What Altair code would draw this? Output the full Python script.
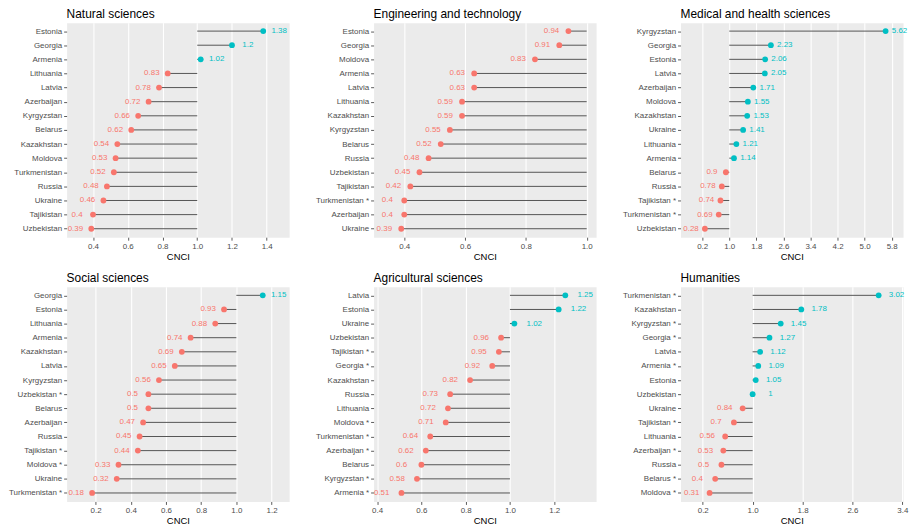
import altair as alt
import pandas as pd

TEAL = "#00BFC4"
SALMON = "#F8766D"
FONT = "Liberation Sans"

# ---- data (top to bottom order as in the figure) ----
nat_countries = ["Estonia", "Georgia", "Armenia", "Lithuania", "Latvia", "Azerbaijan", "Kyrgyzstan",
                 "Belarus", "Kazakhstan", "Moldova", "Turkmenistan", "Russia", "Ukraine", "Tajikistan", "Uzbekistan"]
nat_values = [1.38, 1.2, 1.02, 0.83, 0.78, 0.72, 0.66, 0.62, 0.54, 0.53, 0.52, 0.48, 0.46, 0.4, 0.39]

eng_countries = ["Estonia", "Georgia", "Moldova", "Armenia", "Latvia", "Lithuania", "Kazakhstan",
                 "Kyrgyzstan", "Belarus", "Russia", "Uzbekistan", "Tajikistan", "Turkmenistan *", "Azerbaijan", "Ukraine"]
eng_values = [0.94, 0.91, 0.83, 0.63, 0.63, 0.59, 0.59, 0.55, 0.52, 0.48, 0.45, 0.42, 0.4, 0.4, 0.39]

med_countries = ["Kyrgyzstan", "Georgia", "Estonia", "Latvia", "Azerbaijan", "Moldova", "Kazakhstan",
                 "Ukraine", "Lithuania", "Armenia", "Belarus", "Russia", "Tajikistan *", "Turkmenistan *", "Uzbekistan"]
med_values = [5.62, 2.23, 2.06, 2.05, 1.71, 1.55, 1.53, 1.41, 1.21, 1.14, 0.9, 0.78, 0.74, 0.69, 0.28]

soc_countries = ["Georgia", "Estonia", "Lithuania", "Armenia", "Kazakhstan", "Latvia", "Kyrgyzstan",
                 "Uzbekistan *", "Belarus", "Azerbaijan", "Russia", "Tajikistan *", "Moldova *", "Ukraine", "Turkmenistan *"]
soc_values = [1.15, 0.93, 0.88, 0.74, 0.69, 0.65, 0.56, 0.5, 0.5, 0.47, 0.45, 0.44, 0.33, 0.32, 0.18]

agr_countries = ["Latvia", "Estonia", "Ukraine", "Uzbekistan", "Tajikistan *", "Georgia *", "Kazakhstan",
                 "Russia", "Lithuania", "Moldova *", "Turkmenistan *", "Azerbaijan *", "Belarus", "Kyrgyzstan *", "Armenia *"]
agr_values = [1.25, 1.22, 1.02, 0.96, 0.95, 0.92, 0.82, 0.73, 0.72, 0.71, 0.64, 0.62, 0.6, 0.58, 0.51]

hum_countries = ["Turkmenistan *", "Kazakhstan", "Kyrgyzstan *", "Georgia *", "Latvia", "Armenia *", "Estonia",
                 "Uzbekistan", "Ukraine", "Tajikistan *", "Lithuania", "Azerbaijan *", "Russia", "Belarus *", "Moldova *"]
hum_values = [3.02, 1.78, 1.45, 1.27, 1.12, 1.09, 1.05, 1.0, 0.84, 0.7, 0.56, 0.53, 0.5, 0.4, 0.31]

W, H = 224, 216


def panel(title, countries, values, domain, ticks, dx):
    df = pd.DataFrame({"country": countries, "value": values})
    base = alt.Chart(df).transform_calculate(lbl="'' + datum.value")
    y = alt.Y("country:N", sort=countries,
              scale=alt.Scale(type="point", padding=0.6),
              axis=alt.Axis(title=None, grid=False, labelLimit=200))
    x = alt.X("value:Q",
              scale=alt.Scale(domain=domain, nice=False, zero=False),
              axis=alt.Axis(values=ticks, format=".1f", title="CNCI", grid=True,
                            labelFlush=False, labelOverlap=False))
    rule = base.mark_rule(color="#555555", strokeWidth=1).encode(x=x, x2=alt.datum(1), y=y)
    pts = base.mark_circle(size=34, opacity=1).encode(
        x=x, y=y,
        color=alt.condition(alt.datum.value >= 1, alt.value(TEAL), alt.value(SALMON)),
    )
    txt_hi = base.transform_filter(alt.datum.value >= 1).mark_text(
        align="center", baseline="middle", dx=dx, fontSize=8, color=TEAL, font=FONT
    ).encode(x=x, y=y, text="lbl:N")
    txt_lo = base.transform_filter(alt.datum.value < 1).mark_text(
        align="center", baseline="middle", dx=-dx, fontSize=8, color=SALMON, font=FONT
    ).encode(x=x, y=y, text="lbl:N")
    return alt.layer(rule, pts, txt_hi, txt_lo).properties(
        width=W, height=H,
        title=alt.TitleParams(title, anchor="start", fontSize=12, fontWeight="normal",
                              color="black", offset=2, frame="group", font=FONT),
    )


p1 = panel("Natural sciences", nat_countries, nat_values, [0.248, 1.529], [0.4, 0.6, 0.8, 1.0, 1.2, 1.4], 16)
p2 = panel("Engineering and technology", eng_countries, eng_values, [0.299, 1.031], [0.4, 0.6, 0.8, 1.0], 17)
p3 = panel("Medical and health sciences", med_countries, med_values, [-0.44, 6.135],
           [0.2, 1.0, 1.8, 2.6, 3.4, 4.2, 5.0, 5.8], 14)
p4 = panel("Social sciences", soc_countries, soc_values, [0.035, 1.30], [0.2, 0.4, 0.6, 0.8, 1.0, 1.2], 16)
p5 = panel("Agricultural sciences", agr_countries, agr_values, [0.384, 1.389], [0.4, 0.6, 0.8, 1.0, 1.2], 20)
p6 = panel("Humanities", hum_countries, hum_values, [-0.156, 3.411], [0.2, 1.0, 1.8, 2.6, 3.4], 18)

chart = alt.concat(p1, p2, p3, p4, p5, p6, columns=3,
                   spacing={"row": 50, "column": 85}, bounds="flush").properties(
    padding={"left": 0, "top": -3, "right": 0, "bottom": 0}
).configure(font=FONT).configure_view(
    fill="#EBEBEB", stroke="transparent"
).configure_axis(
    domain=False, tickColor="#333333", tickSize=3, tickWidth=0.8,
    labelColor="#4D4D4D", labelFontSize=8, labelPadding=2, labelFont=FONT,
    titleFontSize=9.5, titleColor="black", titleFontWeight="normal", titleFont=FONT, titlePadding=1,
    gridColor="white", gridWidth=1.1,
)

chart.save("out.html", embed_options={"renderer": "svg", "actions": False})
